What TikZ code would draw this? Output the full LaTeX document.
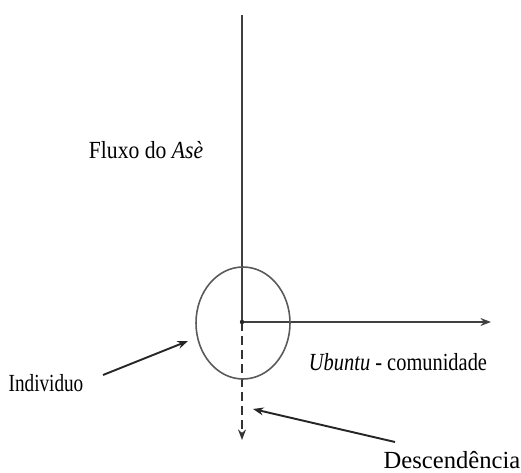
\documentclass[tikz,border=0pt]{standalone}
\usepackage{fontspec}
\setmainfont{Liberation Serif}
\usetikzlibrary{arrows.meta,shapes.geometric}

\tikzset{
    axis/.style={line width=1.3pt, black!75},
    pointer/.style={line width=1.1pt, black!85, -{Stealth[length=6pt,width=4.5pt]}},
    label/.style={font=\fontsize{14}{16}\selectfont, inner sep=0pt}
}

\begin{document}
\begin{tikzpicture}[x=0.02cm, y=-0.02cm]
    \useasboundingbox (0,0) rectangle (521,473);

    % eixos
    \coordinate (o) at (242,322);
    \coordinate (top) at (242,15);
    \coordinate (right) at (491,322);
    \coordinate (down) at (242,440);
    \draw[axis] (top) -- (o);
    \draw[axis, -{Stealth[length=6pt,width=4.5pt]}] (o) -- (right);
    \draw[line width=1.1pt, black!80, dash pattern=on 5pt off 3pt, -{Stealth[length=6pt,width=4.5pt]}] (o) -- (down);
    \fill[black!85] (o) circle (2.2);

    % individuo
    \node[draw=black!65, line width=0.9pt, ellipse, minimum width=1.88cm, minimum height=2.24cm, inner sep=0pt] (ind) at (243,323) {};

    % textos
    \node[label, xscale=0.88] (fluxo) at (146,150) {Fluxo do \textit{Asè}};
    \node[label, xscale=0.83] (ubuntu) at (398,362) {\textit{Ubuntu} - comunidade};
    \node[label, xscale=0.78] (indiv) at (46,383) {Individuo};
    \node[label] (desc) at (452,460) {Descendência};

    % setas
    \coordinate (indtail) at (103,375);
    \coordinate (indtip) at (188,341);
    \coordinate (desctail) at (395,442);
    \coordinate (desctip) at (253,409);
    \draw[pointer] (indtail) -- (indtip);
    \draw[pointer] (desctail) -- (desctip);
\end{tikzpicture}
\end{document}
